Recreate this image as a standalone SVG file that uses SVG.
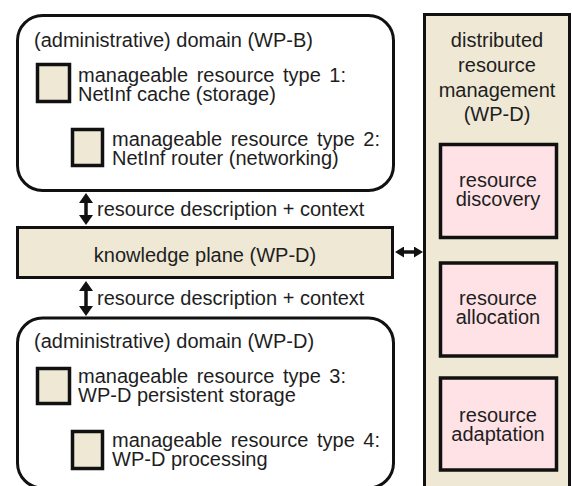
<svg xmlns="http://www.w3.org/2000/svg" width="572" height="486" viewBox="0 0 572 486">
<style>
.t{font-family:"Liberation Sans",Arial,sans-serif;font-size:20px;fill:#1e1e1e}
.w{word-spacing:3px}
.c{text-anchor:middle}
.dom{fill:#ffffff;stroke:#111;stroke-width:3}
.sq{fill:#EEE8D5;stroke:#111;stroke-width:3.5}
.beige{fill:#EEE8D5;stroke:#111;stroke-width:3}
.pink{fill:#FFE2E6;stroke:#111;stroke-width:3.5}
.ln{stroke:#111;stroke-width:3.5;fill:none}
</style>
<defs>
<marker id="big" viewBox="0 0 10 14" refX="2" refY="7" markerWidth="10" markerHeight="14" markerUnits="userSpaceOnUse" orient="auto-start-reverse"><path d="M0,0 L10,7 L0,14 z" fill="#111"/></marker>
<marker id="sm" viewBox="0 0 9 11" refX="2" refY="5.5" markerWidth="9" markerHeight="11" markerUnits="userSpaceOnUse" orient="auto-start-reverse"><path d="M0,0 L9,5.5 L0,11 z" fill="#111"/></marker>
</defs>
<rect width="572" height="486" fill="#fff"/>

<g id="panel">
<rect class="beige" x="424.5" y="14.5" width="145" height="485"/>
<text class="t c" x="497" y="47">distributed</text>
<text class="t c" x="497" y="72">resource</text>
<text class="t c" x="497" y="97">management</text>
<text class="t c" x="497" y="121">(WP-D)</text>
</g>
<g id="discovery">
<rect class="pink" x="440.5" y="144.5" width="116" height="93"/>
<text class="t c" x="498" y="187">resource</text>
<text class="t c" x="498" y="206">discovery</text>
</g>
<g id="allocation">
<rect class="pink" x="440.5" y="263" width="116" height="93"/>
<text class="t c" x="498" y="305">resource</text>
<text class="t c" x="498" y="324">allocation</text>
</g>
<g id="adaptation">
<rect class="pink" x="440.5" y="378" width="116" height="92"/>
<text class="t c" x="498" y="422">resource</text>
<text class="t c" x="498" y="441">adaptation</text>
</g>

<g id="domainB">
<rect class="dom" x="17.5" y="15.5" width="376" height="175" rx="25"/>
<text class="t" x="34" y="47">(administrative) domain (WP-B)</text>
<rect class="sq" x="37.5" y="64.5" width="32" height="37"/>
<text class="t w" x="78" y="82">manageable resource type 1:</text>
<text class="t" x="78" y="101">NetInf cache (storage)</text>
<rect class="sq" x="72.5" y="129.5" width="30" height="36"/>
<text class="t w" x="112" y="146">manageable resource type 2:</text>
<text class="t" x="112" y="165">NetInf router (networking)</text>
</g>

<g id="knowledge">
<rect class="beige" x="17.5" y="227.5" width="375" height="50"/>
<text class="t c" x="205" y="262">knowledge plane (WP-D)</text>
</g>

<g id="domainD">
<rect class="dom" x="17.5" y="318" width="376" height="170" rx="25"/>
<text class="t" x="34" y="348">(administrative) domain (WP-D)</text>
<rect class="sq" x="37.5" y="368.5" width="32" height="35"/>
<text class="t w" x="78" y="383">manageable resource type 3:</text>
<text class="t" x="78" y="402">WP-D persistent storage</text>
<rect class="sq" x="72.5" y="431.5" width="30" height="37"/>
<text class="t w" x="112" y="447">manageable resource type 4:</text>
<text class="t" x="112" y="466">WP-D processing</text>
</g>

<g id="connectors">
<line class="ln" x1="86" y1="201" x2="86" y2="217" marker-start="url(#big)" marker-end="url(#big)"/>
<text class="t" x="97" y="216">resource description + context</text>
<line class="ln" x1="86" y1="289" x2="86" y2="308" marker-start="url(#big)" marker-end="url(#big)"/>
<text class="t" x="97" y="305">resource description + context</text>
<line class="ln" x1="402" y1="252" x2="416" y2="252" marker-start="url(#sm)" marker-end="url(#sm)"/>
</g>
</svg>
